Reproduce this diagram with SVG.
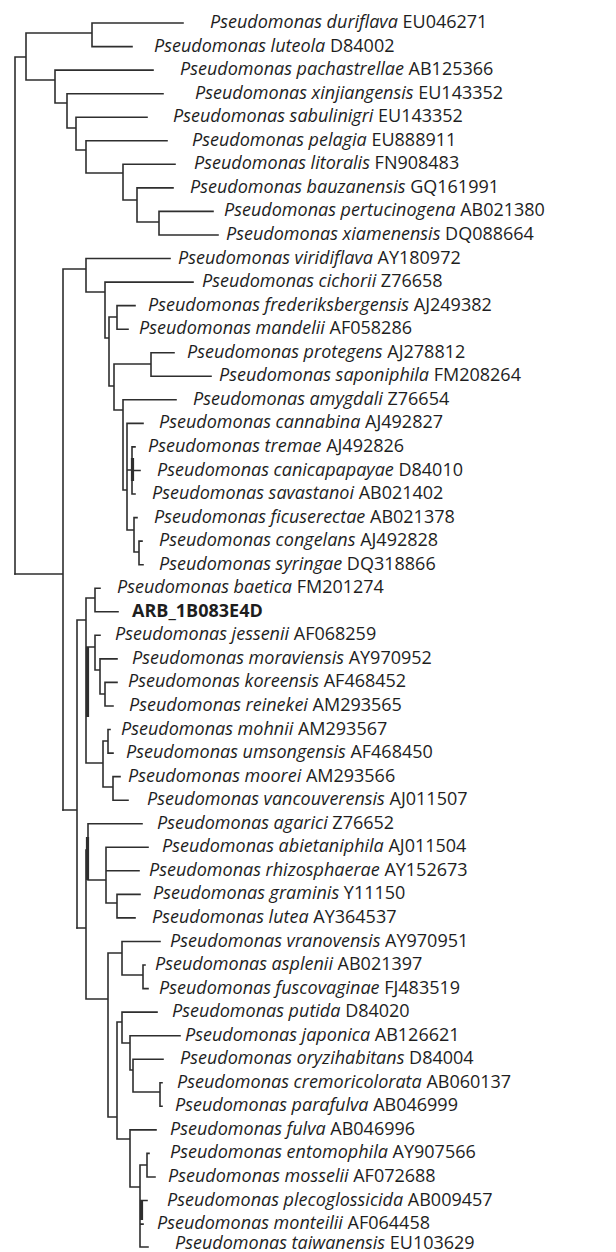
<svg xmlns="http://www.w3.org/2000/svg" width="616" height="1252" viewBox="0 0 616 1252">
<style>
.t{font-family:"Open Sans","Liberation Sans",sans-serif;font-size:18px;fill:#1e1e1e}
.i{font-style:italic}
.b{font-weight:bold}
.br{fill:none;stroke:#2e2e2e;stroke-width:1.6;stroke-linecap:square}
.th{fill:none;stroke:#2e2e2e;stroke-width:3.2}
</style>
<rect width="616" height="1252" fill="#ffffff"/>
<g id="connectors">
<path class="br" d="M15,57V574 M15,57H26 M26,33V80
M26,33H92 M92,23V46.6 M92,23H183 M92,46.6H132
M26,80H55 M55,70.1V103 M55,70.1H153
M55,103H67 M67,93.7V128 M67,93.7H163
M67,128H76 M76,117.2V150 M76,117.2H147
M76,150H86 M86,140.8V173 M86,140.8H167
M86,173H123 M123,164.3V200 M123,164.3H175
M123,200H137 M137,187.9V222 M137,187.9H173
M137,222H159 M159,211.4V235 M159,211.4H213 M159,235H218"/>
<path class="br" d="M15,574H63 M63,269V810
M63,269H86 M86,258.5V292 M86,258.5H170
M86,292H105 M105,282.1V338 M105,282.1H193
M105,338H109 M109,317V386
M109,317H117 M117,305.6V329.2 M117,305.6H135 M117,329.2H128
M109,386H114 M114,364V410
M114,364H151 M151,352.7V376.3 M151,352.7H174 M151,376.3H211
M114,410H123 M123,399.8V490 M123,399.8H176
M123,490H127 M127,423.4V530 M127,423.4H143
M127,470H132 M132,446.9V494 M132,446.9H135 M132,470.5H140 M132,494H135
M127,530H134 M134,517.6V552 M134,517.6H137
M134,552H139 M139,541.1V564.7 M139,541.1H142 M139,564.7H143"/>
<path class="br" d="M63,810H77 M77,620V928
M77,620H86 M86,598V763
M86,598H95 M95,588.2V611.8 M95,588.2H100 M95,611.8H118
M86,647H95 M95,635.3V670 M95,635.3H100
M95,670H100 M100,658.9V694 M100,658.9H117
M100,694H105 M105,682.4V706 M105,682.4H117 M105,706H113
M86,763H103 M103,741V787
M103,741H108 M108,729.5V753.1 M108,729.5H110 M108,753.1H113
M103,787H113 M113,776.6V800.2 M113,776.6H120 M113,800.2H128"/>
<path class="br" d="M77,928H86 M86,850V999
M86,850H88 M88,823.7V880 M88,823.7H142
M88,880H106 M106,847.3V903 M106,847.3H148 M106,870.8H139
M106,903H117 M117,894.4V917.9 M117,894.4H140 M117,917.9H135
M86,999H108 M108,953V1117
M108,953H122 M122,941.5V975 M122,941.5H160
M122,975H143 M143,965V988.6 M143,965H145 M143,988.6H148
M108,1117H117 M117,1022V1139
M117,1022H122 M122,1012.1V1043 M122,1012.1H157
M122,1043H130 M130,1035.7V1070 M130,1035.7H180
M130,1070H133 M133,1059.2V1092 M133,1059.2H163
M133,1092H160 M160,1082.8V1106.3 M160,1082.8H162 M160,1106.3H162
M117,1139H130 M130,1129.9V1187 M130,1129.9H156
M130,1187H140 M140,1165V1247
M140,1165H147 M147,1153.4V1177 M147,1153.4H149 M147,1177H155
M140,1200.5H147 M140,1224.1H143 M140,1247H148"/>
<path class="th" d="M87.5,647V717 M132.5,458V481 M87.5,837V880 M141.5,1200V1220"/>
</g>
<g id="n1"><text class="t" x="210" y="28"><tspan class="i">Pseudomonas duriflava</tspan> EU046271</text></g>
<g id="n2"><text class="t" x="154" y="51.6"><tspan class="i">Pseudomonas luteola</tspan> D84002</text></g>
<g id="n3"><text class="t" x="180" y="75.1"><tspan class="i">Pseudomonas pachastrellae</tspan> AB125366</text></g>
<g id="n4"><text class="t" x="195" y="98.7"><tspan class="i">Pseudomonas xinjiangensis</tspan> EU143352</text></g>
<g id="n5"><text class="t" x="173" y="122.2"><tspan class="i">Pseudomonas sabulinigri</tspan> EU143352</text></g>
<g id="n6"><text class="t" x="192" y="145.8"><tspan class="i">Pseudomonas pelagia</tspan> EU888911</text></g>
<g id="n7"><text class="t" x="194" y="169.3"><tspan class="i">Pseudomonas litoralis</tspan> FN908483</text></g>
<g id="n8"><text class="t" x="190" y="192.9"><tspan class="i">Pseudomonas bauzanensis</tspan> GQ161991</text></g>
<g id="n9"><text class="t" x="224" y="216.4"><tspan class="i">Pseudomonas pertucinogena</tspan> AB021380</text></g>
<g id="n10"><text class="t" x="226" y="240"><tspan class="i">Pseudomonas xiamenensis</tspan> DQ088664</text></g>
<g id="n11"><text class="t" x="178" y="263.5"><tspan class="i">Pseudomonas viridiflava</tspan> AY180972</text></g>
<g id="n12"><text class="t" x="202" y="287.1"><tspan class="i">Pseudomonas cichorii</tspan> Z76658</text></g>
<g id="n13"><text class="t" x="148" y="310.6"><tspan class="i">Pseudomonas frederiksbergensis</tspan> AJ249382</text></g>
<g id="n14"><text class="t" x="139" y="334.2"><tspan class="i">Pseudomonas mandelii</tspan> AF058286</text></g>
<g id="n15"><text class="t" x="187" y="357.7"><tspan class="i">Pseudomonas protegens</tspan> AJ278812</text></g>
<g id="n16"><text class="t" x="219" y="381.3"><tspan class="i">Pseudomonas saponiphila</tspan> FM208264</text></g>
<g id="n17"><text class="t" x="193" y="404.8"><tspan class="i">Pseudomonas amygdali</tspan> Z76654</text></g>
<g id="n18"><text class="t" x="159" y="428.4"><tspan class="i">Pseudomonas cannabina</tspan> AJ492827</text></g>
<g id="n19"><text class="t" x="148" y="451.9"><tspan class="i">Pseudomonas tremae</tspan> AJ492826</text></g>
<g id="n20"><text class="t" x="157" y="475.5"><tspan class="i">Pseudomonas canicapapayae</tspan> D84010</text></g>
<g id="n21"><text class="t" x="152" y="499"><tspan class="i">Pseudomonas savastanoi</tspan> AB021402</text></g>
<g id="n22"><text class="t" x="154" y="522.6"><tspan class="i">Pseudomonas ficuserectae</tspan> AB021378</text></g>
<g id="n23"><text class="t" x="159" y="546.1"><tspan class="i">Pseudomonas congelans</tspan> AJ492828</text></g>
<g id="n24"><text class="t" x="159" y="569.7"><tspan class="i">Pseudomonas syringae</tspan> DQ318866</text></g>
<g id="n25"><text class="t" x="117" y="593.2"><tspan class="i">Pseudomonas baetica</tspan> FM201274</text></g>
<g id="n26"><text class="t b" x="132" y="616.8">ARB_1B083E4D</text></g>
<g id="n27"><text class="t" x="115" y="640.3"><tspan class="i">Pseudomonas jessenii</tspan> AF068259</text></g>
<g id="n28"><text class="t" x="132" y="663.9"><tspan class="i">Pseudomonas moraviensis</tspan> AY970952</text></g>
<g id="n29"><text class="t" x="128" y="687.4"><tspan class="i">Pseudomonas koreensis</tspan> AF468452</text></g>
<g id="n30"><text class="t" x="129" y="711"><tspan class="i">Pseudomonas reinekei</tspan> AM293565</text></g>
<g id="n31"><text class="t" x="121" y="734.5"><tspan class="i">Pseudomonas mohnii</tspan> AM293567</text></g>
<g id="n32"><text class="t" x="126" y="758.1"><tspan class="i">Pseudomonas umsongensis</tspan> AF468450</text></g>
<g id="n33"><text class="t" x="128" y="781.6"><tspan class="i">Pseudomonas moorei</tspan> AM293566</text></g>
<g id="n34"><text class="t" x="147" y="805.2"><tspan class="i">Pseudomonas vancouverensis</tspan> AJ011507</text></g>
<g id="n35"><text class="t" x="157" y="828.7"><tspan class="i">Pseudomonas agarici</tspan> Z76652</text></g>
<g id="n36"><text class="t" x="162" y="852.3"><tspan class="i">Pseudomonas abietaniphila</tspan> AJ011504</text></g>
<g id="n37"><text class="t" x="149" y="875.8"><tspan class="i">Pseudomonas rhizosphaerae</tspan> AY152673</text></g>
<g id="n38"><text class="t" x="153" y="899.4"><tspan class="i">Pseudomonas graminis</tspan> Y11150</text></g>
<g id="n39"><text class="t" x="152" y="922.9"><tspan class="i">Pseudomonas lutea</tspan> AY364537</text></g>
<g id="n40"><text class="t" x="170" y="946.5"><tspan class="i">Pseudomonas vranovensis</tspan> AY970951</text></g>
<g id="n41"><text class="t" x="155" y="970"><tspan class="i">Pseudomonas asplenii</tspan> AB021397</text></g>
<g id="n42"><text class="t" x="159" y="993.6"><tspan class="i">Pseudomonas fuscovaginae</tspan> FJ483519</text></g>
<g id="n43"><text class="t" x="172" y="1017.1"><tspan class="i">Pseudomonas putida</tspan> D84020</text></g>
<g id="n44"><text class="t" x="185" y="1040.7"><tspan class="i">Pseudomonas japonica</tspan> AB126621</text></g>
<g id="n45"><text class="t" x="180" y="1064.2"><tspan class="i">Pseudomonas oryzihabitans</tspan> D84004</text></g>
<g id="n46"><text class="t" x="177" y="1087.8"><tspan class="i">Pseudomonas cremoricolorata</tspan> AB060137</text></g>
<g id="n47"><text class="t" x="175" y="1111.3"><tspan class="i">Pseudomonas parafulva</tspan> AB046999</text></g>
<g id="n48"><text class="t" x="170" y="1134.9"><tspan class="i">Pseudomonas fulva</tspan> AB046996</text></g>
<g id="n49"><text class="t" x="170" y="1158.4"><tspan class="i">Pseudomonas entomophila</tspan> AY907566</text></g>
<g id="n50"><text class="t" x="168" y="1182"><tspan class="i">Pseudomonas mosselii</tspan> AF072688</text></g>
<g id="n51"><text class="t" x="167" y="1205.5"><tspan class="i">Pseudomonas plecoglossicida</tspan> AB009457</text></g>
<g id="n52"><text class="t" x="157" y="1228.6"><tspan class="i">Pseudomonas monteilii</tspan> AF064458</text></g>
<g id="n53"><text class="t" x="175" y="1248.5"><tspan class="i">Pseudomonas taiwanensis</tspan> EU103629</text></g>
</svg>
